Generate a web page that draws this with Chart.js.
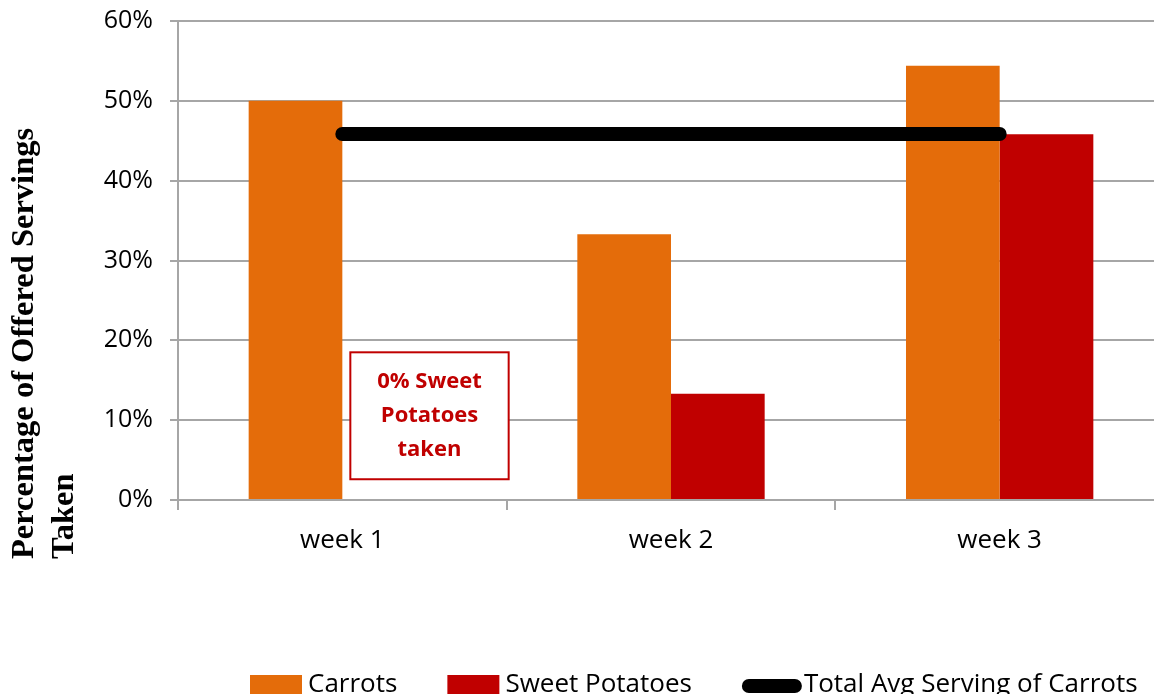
<!DOCTYPE html>
<html>
<head>
<meta charset="utf-8">
<script src="https://cdn.jsdelivr.net/npm/chart.js@4"></script>
<style>
  html, body { margin: 0; padding: 0; background: #fff; overflow: hidden; }
  #wrap { width: 1154px; height: 694px; overflow: hidden; position: relative; }
  #chart { display: block; }
</style>
</head>
<body>
<div id="wrap"><canvas id="chart" width="1164" height="694"></canvas></div>
<script>
const weeks = ['week 1', 'week 2', 'week 3'];
const carrots = [50.0, 33.3, 54.4];
const sweetPotatoes = [0, 13.3, 45.8];
const avgCarrots = [45.85, 45.85, 45.85];
const yTicks = [0, 10, 20, 30, 40, 50, 60];
const yTitle = ['Percentage of Offered Servings', 'Taken'];
const noteLines = ['0% Sweet', 'Potatoes', 'taken'];
const noteRange = [2.6, 18.5]; // in % on the y axis

Chart.defaults.font.family = '"Open Sans", sans-serif';
Chart.defaults.color = '#000';

const yTitlePlugin = {
    id: 'yTitle',
    afterDraw(chart) {
        const ctx = chart.ctx;
        ctx.save();
        ctx.font = 'bold 32.5px "Liberation Serif", serif';
        ctx.fillStyle = '#000';
        ctx.textAlign = 'left';
        ctx.textBaseline = 'alphabetic';
        const baselines = [33, 73];
        yTitle.forEach((line, i) => {
            ctx.save();
            ctx.translate(baselines[i], 559);
            ctx.rotate(-Math.PI / 2);
            ctx.fillText(line, 0, 0);
            ctx.restore();
        });
        ctx.restore();
    }
};

const notePlugin = {
    id: 'note',
    afterDatasetsDraw(chart) {
        const ctx = chart.ctx;
        const x = chart.scales.x;
        const y = chart.scales.y;
        const center = x.getPixelForValue(0);
        const half = (x.getPixelForValue(1) - center) / 2;
        const left = center + 8;
        const right = center + half + 2;
        const top = y.getPixelForValue(noteRange[1]);
        const bottom = y.getPixelForValue(noteRange[0]);
        ctx.save();
        ctx.fillStyle = '#fff';
        ctx.fillRect(left, top, right - left, bottom - top);
        ctx.strokeStyle = '#C00000';
        ctx.lineWidth = 2;
        ctx.strokeRect(left, top, right - left, bottom - top);
        ctx.fillStyle = '#C00000';
        ctx.font = 'bold 22px "Open Sans", sans-serif';
        ctx.textAlign = 'center';
        ctx.textBaseline = 'middle';
        const mid = (top + bottom) / 2;
        noteLines.forEach((line, i) => {
            ctx.fillText(line, (left + right) / 2, mid + (i - 1) * 34);
        });
        ctx.restore();
    }
};

// legend drawn by hand so the spacing matches the original
const legendPlugin = {
    id: 'bottomLegend',
    afterDraw(chart) {
        const ctx = chart.ctx;
        const cy = 685;
        let cx = 250;
        ctx.save();
        ctx.font = '26px "Open Sans", sans-serif';
        ctx.textBaseline = 'middle';
        ctx.textAlign = 'left';
        chart.data.datasets.forEach(ds => {
            if (ds.type === 'line') {
                ctx.strokeStyle = ds.borderColor;
                ctx.lineWidth = ds.borderWidth;
                ctx.lineCap = 'round';
                ctx.beginPath();
                ctx.moveTo(cx + 7, cy + 1);
                ctx.lineTo(cx + 53, cy + 1);
                ctx.stroke();
                cx += 62;
            } else {
                ctx.fillStyle = ds.backgroundColor;
                ctx.fillRect(cx, cy - 10, 52, 20);
                cx += 58;
            }
            ctx.fillStyle = '#000';
            ctx.fillText(ds.label, cx, cy);
            cx += ctx.measureText(ds.label).width + 50;
        });
        ctx.restore();
    }
};

new Chart(document.getElementById('chart'), {
    type: 'bar',
    data: {
        labels: weeks,
        datasets: [
            {
                label: 'Carrots',
                data: carrots,
                backgroundColor: '#E46C0A',
                borderWidth: 0,
                categoryPercentage: 0.57,
                barPercentage: 1,
                order: 1,
            },
            {
                label: 'Sweet Potatoes',
                data: sweetPotatoes,
                backgroundColor: '#C00000',
                borderWidth: 0,
                categoryPercentage: 0.57,
                barPercentage: 1,
                order: 1,
            },
            {
                type: 'line',
                label: 'Total Avg Serving of Carrots',
                data: avgCarrots,
                borderColor: '#000',
                backgroundColor: '#000',
                borderWidth: 14,
                borderCapStyle: 'round',
                pointRadius: 0,
                order: 0,
            },
        ]
    },
    options: {
        responsive: false,
        animation: false,
        layout: { padding: { top: 21, left: 0, right: 0, bottom: 0 } },
        plugins: {
            tooltip: { enabled: false },
            legend: { display: false },
        },
        scales: {
            x: {
                grid: {
                    offset: true,
                    drawOnChartArea: false,
                    tickLength: 10,
                    color: '#A6A6A6',
                    lineWidth: 2,
                },
                border: { display: false },
                ticks: { font: { size: 26 }, padding: 15 },
                afterFit(scale) {
                    scale.height = 194;
                    scale.paddingLeft = 0;
                    scale.paddingRight = 0;
                },
            },
            y: {
                min: 0,
                max: 60,
                afterBuildTicks(scale) { scale.ticks = yTicks.map(v => ({ value: v })); },
                grid: { color: '#A6A6A6', lineWidth: 2, tickLength: 8 },
                border: { color: '#A6A6A6', width: 2 },
                ticks: { font: { size: 25 }, padding: 17, callback: v => v + '%' },
                afterFit(scale) {
                    scale.width = 178;
                    scale.paddingTop = 0;
                    scale.paddingBottom = 0;
                },
            },
        },
    },
    plugins: [yTitlePlugin, notePlugin, legendPlugin],
});
</script>
</body>
</html>
